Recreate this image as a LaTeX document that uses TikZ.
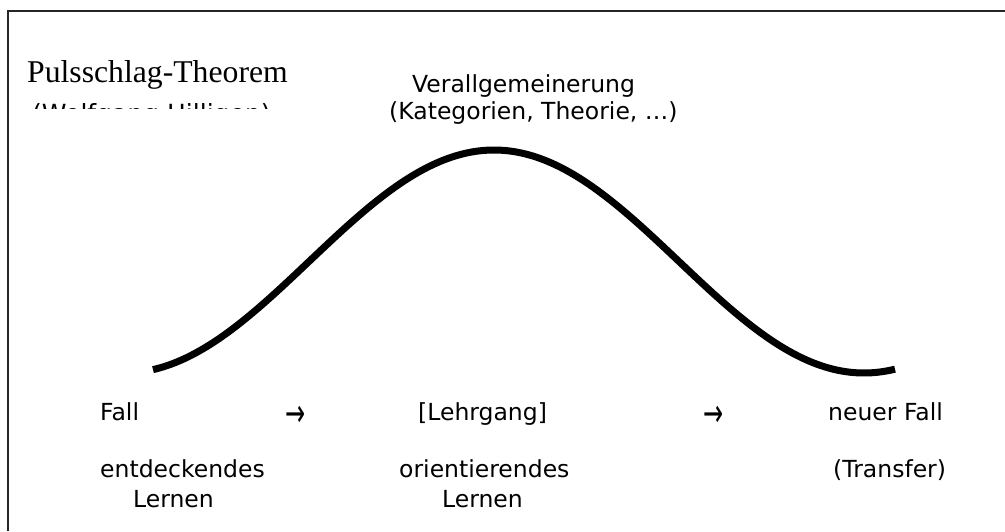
\documentclass[tikz,border=0pt]{standalone}
\usepackage{fontspec}
\usepackage{graphicx}
\setmainfont{DejaVu Sans}
\newfontfamily\titlefont{Liberation Serif}
\newcommand{\bigarrowglyph}{\scalebox{1}[1.6]{→}}
\begin{document}
\begin{tikzpicture}[x=1pt,y=-1pt,
  lbl/.style={inner sep=0pt,anchor=base west,font=\fontsize{23.5}{27}\selectfont},
  arr/.style={inner sep=0pt,anchor=west,font=\fontsize{24}{28}\selectfont},
  frameline/.style={line width=2pt,draw=black!85},
  curve/.style={line width=7pt,line join=round}]
\useasboundingbox (0,0) rectangle (1005,531);
\fill[white] (0,0) rectangle (1005,531);
% frame (top and left only)
\coordinate (fl) at (8,531);
\coordinate (ftl) at (8,11);
\coordinate (ftr) at (1005,11);
\draw[frameline] (fl) -- (ftl) -- (ftr);
% title
\node[lbl,font=\titlefont\fontsize{31.7}{36}\selectfont] (title) at (27,82) {Pulsschlag-Theorem};
\begin{scope}
  \clip (0,0) rectangle (400,108.3);
  \node[lbl,font=\fontsize{25}{28}\selectfont] (author) at (32,122.5) {(Wolfgang Hilligen)};
\end{scope}
% top labels
\node[lbl] (gen1) at (412,92) {Verallgemeinerung};
\node[lbl] (gen2) at (389,119) {(Kategorien, Theorie, …)};
% curve
\draw[curve] plot[domain=153:895,samples=200] (\x,{373-111.5*(1+cos((\x-494)/370*180))});
% bottom row
\node[lbl] (fall) at (100,420) {Fall};
\node[arr] (arr1) at (285,416) {\bigarrowglyph};
\node[lbl] (lehr) at (418,420) {[Lehrgang]};
\node[arr] (arr2) at (703,416) {\bigarrowglyph};
\node[lbl] (neu) at (828,420) {neuer Fall};
\node[lbl] (ent) at (100,477) {entdeckendes};
\node[lbl] (lern1) at (133,507) {Lernen};
\node[lbl] (ori) at (399,477) {orientierendes};
\node[lbl] (lern2) at (442,507) {Lernen};
\node[lbl] (trans) at (833,477) {(Transfer)};
\end{tikzpicture}
\end{document}
